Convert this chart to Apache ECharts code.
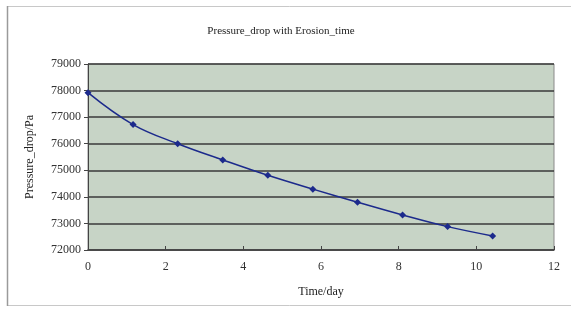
<!DOCTYPE html>
<html>
<head>
<meta charset="utf-8">
<script src="https://cdn.jsdelivr.net/npm/echarts@6/dist/echarts.min.js"></script>
<style>
  html, body { margin: 0; padding: 0; background: #ffffff; }
  #chart { width: 571px; height: 311px; }
</style>
</head>
<body>
<div id="chart"></div>
<script>
// data
const timeDays = [0, 1.16, 2.31, 3.47, 4.63, 5.79, 6.94, 8.1, 9.26, 10.42];
const pressureDrop = [77920, 76720, 76000, 75390, 74810, 74290, 73800, 73320, 72880, 72530];
const titleText = "Pressure_drop with Erosion_time";
const xName = "Time/day";
const yName = "Pressure_drop/Pa";

const points = timeDays.map((t, i) => [t, pressureDrop[i]]);
const serif = "'Liberation Serif', 'DejaVu Serif', serif";

let myChart = echarts.init(document.getElementById("chart"));
myChart.setOption({
  animation: false,
  backgroundColor: "#ffffff",
  title: {
    text: titleText,
    left: 276,
    textAlign: "center",
    top: 21,
    textStyle: { fontFamily: serif, fontSize: 11, fontWeight: "normal", color: "#222" }
  },
  graphic: [
    {
      type: "rect",
      shape: { x: 7.5, y: 6.5, width: 570, height: 299 },
      style: { fill: null, stroke: "#c8c8c8", lineWidth: 1 }
    },
    {
      type: "line",
      shape: { x1: 7.5, y1: 6, x2: 7.5, y2: 306 },
      style: { stroke: "#9a9a9a", lineWidth: 1.5 }
    }
  ],
  grid: {
    left: 88,
    right: 17,
    top: 64,
    bottom: 61,
    show: true,
    backgroundColor: "#c7d4c6",
    borderColor: "#8a8a8a",
    borderWidth: 1
  },
  xAxis: {
    type: "value",
    min: 0,
    max: 12,
    interval: 2,
    name: xName,
    nameLocation: "middle",
    nameGap: 36,
    nameTextStyle: { fontFamily: serif, fontSize: 12, color: "#222" },
    axisLine: { show: true, lineStyle: { color: "#444", width: 1.5 } },
    axisTick: { show: true, inside: true, length: 4, lineStyle: { color: "#444" } },
    axisLabel: { fontFamily: serif, fontSize: 12, color: "#333", margin: 11 },
    splitLine: { show: false }
  },
  yAxis: {
    type: "value",
    min: 72000,
    max: 79000,
    interval: 1000,
    name: yName,
    nameLocation: "middle",
    nameGap: 52,
    nameTextStyle: { fontFamily: serif, fontSize: 12, color: "#222" },
    axisLine: { show: true, lineStyle: { color: "#444", width: 1 } },
    axisTick: { show: true, length: 4, lineStyle: { color: "#444" } },
    axisLabel: { fontFamily: serif, fontSize: 12, color: "#333", margin: 7, formatter: v => String(v) },
    splitLine: { show: true, lineStyle: { color: "#3a3a3a", width: 1.5 } }
  },
  series: [
    {
      type: "line",
      data: points,
      smooth: 0.4,
      symbol: "diamond",
      symbolSize: 7,
      lineStyle: { color: "#1c2a8c", width: 1.5 },
      itemStyle: { color: "#1c2a8c" }
    }
  ]
});
window.onresize = () => {
  myChart.resize();
};
</script>
</body>
</html>
